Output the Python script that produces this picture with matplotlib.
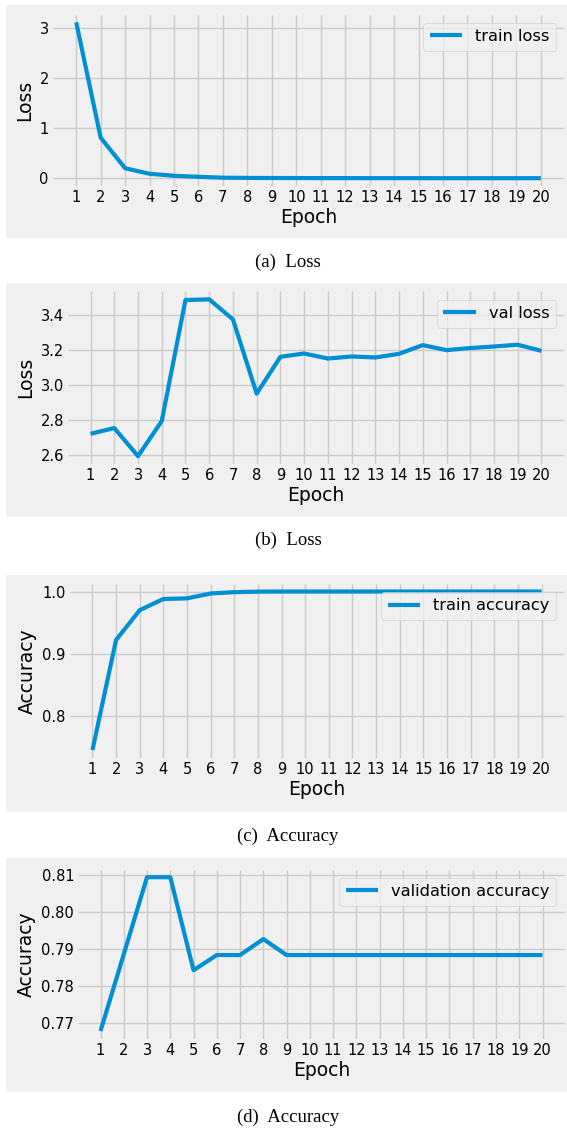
import matplotlib
matplotlib.use("Agg")
import matplotlib.pyplot as plt
from matplotlib.patches import Rectangle
from matplotlib.ticker import FormatStrFormatter

plt.style.use('fivethirtyeight')
plt.rcParams['font.family'] = ['DejaVu Sans']

epochs = list(range(1, 21))

train_loss = [3.11, 0.81, 0.20, 0.09, 0.05, 0.03, 0.012, 0.008, 0.006, 0.005,
              0.004, 0.004, 0.003, 0.003, 0.003, 0.002, 0.002, 0.002, 0.002, 0.002]
val_loss = [2.72, 2.753, 2.592, 2.793, 3.486, 3.49, 3.375, 2.95, 3.161, 3.18,
            3.151, 3.163, 3.157, 3.178, 3.228, 3.199, 3.211, 3.22, 3.23, 3.195]
train_acc = [0.7446, 0.922, 0.970, 0.988, 0.989, 0.9968, 0.999, 0.9998, 1.0, 1.0,
             1.0, 1.0, 1.0, 1.0, 1.0, 1.0, 1.0, 1.0, 1.0, 1.0]
val_acc = [0.7679, 0.7886, 0.8094, 0.8094, 0.7843, 0.7884, 0.7884, 0.7927, 0.7884, 0.7884,
           0.7884, 0.7884, 0.7884, 0.7884, 0.7884, 0.7884, 0.7884, 0.7884, 0.7884, 0.7884]

yticks_a = [0, 1, 2, 3]
yticks_b = [2.6, 2.8, 3.0, 3.2, 3.4]
yticks_c = [0.8, 0.9, 1.0]
yticks_d = [0.77, 0.78, 0.79, 0.80, 0.81]

W, H = 567, 1128
fig = plt.figure(figsize=(W / 100, H / 100), dpi=100)
fig.patch.set_facecolor('white')


def px_box(x0, x1, y0, y1):
    return [x0 / W, 1 - y1 / H, (x1 - x0) / W, (y1 - y0) / H]


# grey panel backgrounds (top, bottom in pixels)
panels = [(5, 238), (283, 517), (575, 812), (858, 1092)]
for top, bot in panels:
    fig.patches.append(Rectangle((6 / W, 1 - bot / H), (W - 6) / W, (bot - top) / H,
                                 transform=fig.transFigure, facecolor='#f0f0f0',
                                 edgecolor='none', zorder=-10))

specs = [
    (px_box(53, 564, 14.5, 186), train_loss, 'train loss', 'Loss', yticks_a, '%d', 262, '(a)  Loss'),
    (px_box(68, 564, 291.5, 464), val_loss, 'val loss', 'Loss', yticks_b, '%.1f', 540, '(b)  Loss'),
    (px_box(70, 564, 583.6, 758), train_acc, 'train accuracy', 'Accuracy', yticks_c, '%.1f', 836, '(c)  Accuracy'),
    (px_box(78.4, 564.6, 869.5, 1038.7), val_acc, 'validation accuracy', 'Accuracy', yticks_d, '%.2f', 1117, '(d)  Accuracy'),
]

for box, vals, name, ylab, yt, fmt, cap_y, cap in specs:
    ax = fig.add_axes(box)
    ax.set_facecolor('#f0f0f0')
    ax.plot(epochs, vals, color='#008fd5', lw=3.0, label=name)
    ax.set_xticks(epochs)
    ax.set_yticks(yt)
    ax.yaxis.set_major_formatter(FormatStrFormatter(fmt))
    ax.tick_params(labelsize=10.5, pad=3)
    ax.set_xlabel('Epoch', fontsize=13.5, labelpad=2)
    ax.set_ylabel(ylab, fontsize=13.5, labelpad=4)
    ax.grid(True, color='#cbcbcb', lw=1)
    for s in ax.spines.values():
        s.set_visible(False)
    ax.legend(loc='upper right', fontsize=11.7)
    fig.text(288 / W, 1 - cap_y / H, cap, ha='center', va='center',
             family='Liberation Serif', fontsize=13.5)

fig.savefig('out.png', dpi=100, facecolor='white')
